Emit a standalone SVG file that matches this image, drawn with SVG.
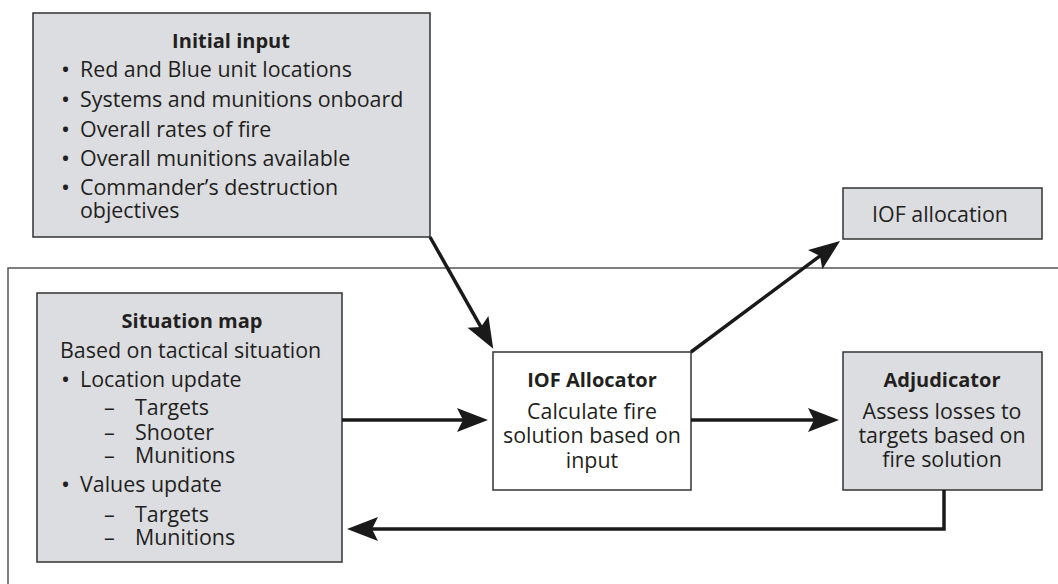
<svg xmlns="http://www.w3.org/2000/svg" width="1058" height="584" viewBox="0 0 1058 584">
<defs>
<style>
.box{fill:#dcdde0;stroke:#333;stroke-width:1.5}
.wbox{fill:#fff;stroke:#333;stroke-width:1.5}
.frame{fill:none;stroke:#555;stroke-width:1.5}
text{font-family:"Open Sans","Noto Sans",sans-serif;font-size:21.4px;fill:#231f20}
.t{font-weight:bold;font-size:20px}
.c{text-anchor:middle}
.b{font-size:24px}
.con{fill:none;stroke:#1a1a1a;stroke-width:3.5;marker-end:url(#ah)}
</style>
<marker id="ah" markerUnits="userSpaceOnUse" viewBox="-10 -14 34 28" markerWidth="34" markerHeight="28" refX="0" refY="0" orient="auto">
<path d="M22,0 L-9,-12 L-3,0 L-9,12 Z" fill="#1a1a1a"/>
</marker>
</defs>
<rect x="0" y="0" width="1058" height="584" fill="#fff"/>
<path class="frame" d="M8,584 L8,268 L1058,268"/>
<g id="initial-input">
<rect class="box" x="33" y="13" width="397" height="224"/>
<text class="t c" x="231" y="48">Initial input</text>
<text class="b" x="61" y="78">•</text><text x="80" y="77">Red and Blue unit locations</text>
<text class="b" x="61" y="108">•</text><text x="80" y="107">Systems and munitions onboard</text>
<text class="b" x="61" y="138">•</text><text x="80" y="137">Overall rates of fire</text>
<text class="b" x="61" y="167">•</text><text x="80" y="166">Overall munitions available</text>
<text class="b" x="61" y="196">•</text><text x="80" y="195">Commander’s destruction</text>
<text x="80" y="218">objectives</text>
</g>
<g id="iof-allocation">
<rect class="box" x="843" y="188" width="199" height="51"/>
<text class="c" x="940" y="222">IOF allocation</text>
</g>
<g id="situation-map">
<rect class="box" x="37" y="293" width="305" height="269"/>
<text class="t c" x="192" y="328">Situation map</text>
<text x="60" y="358">Based on tactical situation</text>
<text class="b" x="61" y="388">•</text><text x="80" y="387">Location update</text>
<text x="104" y="415">–</text><text x="135" y="415">Targets</text>
<text x="104" y="440">–</text><text x="135" y="440">Shooter</text>
<text x="104" y="463">–</text><text x="135" y="463">Munitions</text>
<text class="b" x="61" y="493">•</text><text x="80" y="492">Values update</text>
<text x="104" y="522">–</text><text x="135" y="522">Targets</text>
<text x="104" y="545">–</text><text x="135" y="545">Munitions</text>
</g>
<g id="iof-allocator">
<rect class="wbox" x="493" y="352" width="198" height="138"/>
<text class="t c" x="592" y="387">IOF Allocator</text>
<text class="c" x="592" y="419">Calculate fire</text>
<text class="c" x="592" y="443">solution based on</text>
<text class="c" x="592" y="468">input</text>
</g>
<g id="adjudicator">
<rect class="box" x="843" y="352" width="199" height="138"/>
<text class="t c" x="942" y="387">Adjudicator</text>
<text class="c" x="942" y="419">Assess losses to</text>
<text class="c" x="942" y="443">targets based on</text>
<text class="c" x="942" y="467">fire solution</text>
</g>
<g id="connectors">
<path class="con" d="M430,237 L482.4,329.7"/>
<path class="con" d="M691,352 L822.4,254.2"/>
<path class="con" d="M342,420 L466,420"/>
<path class="con" d="M691,420 L817,420"/>
<path class="con" d="M944,490 L944,529 L369,529"/>
</g>
</svg>
